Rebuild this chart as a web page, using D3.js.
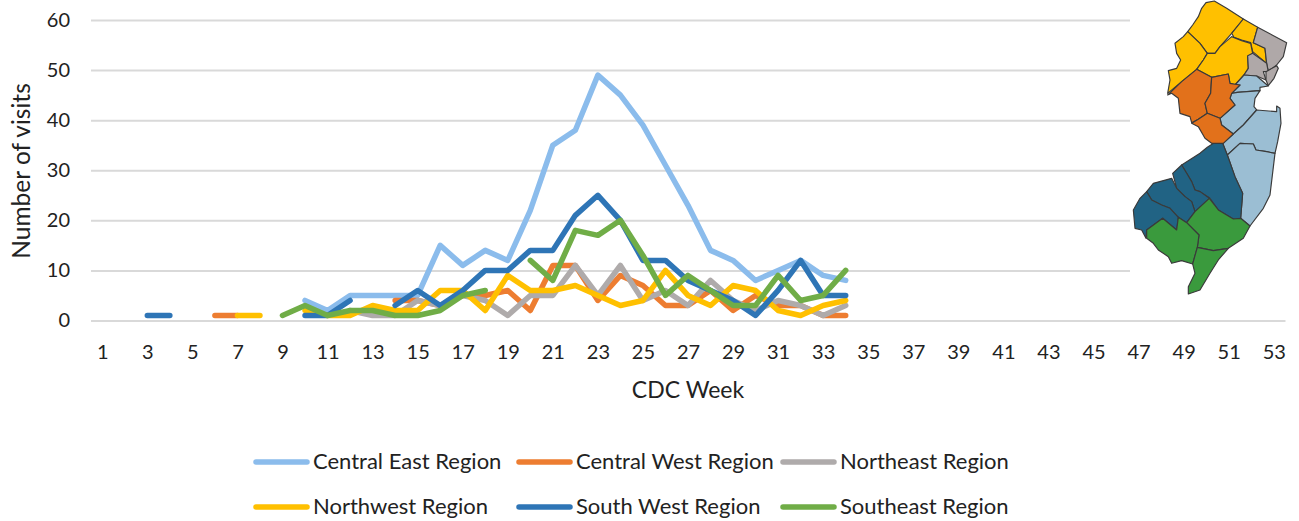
<!DOCTYPE html>
<html>
<head>
<meta charset="utf-8">
<script src="https://cdn.jsdelivr.net/npm/d3@7"></script>
<style>
    html, body { margin: 0; padding: 0; background: #fff; }
    svg { display: block; }
    text { font-family: Lato, "Open Sans", sans-serif; fill: #222; }
</style>
</head>
<body>
<svg id="drawing_region"></svg>
<script>
const _ = null;

// weeks 1 to 53
const weeks = d3.range(1, 54);
const y_ticks = [0, 10, 20, 30, 40, 50, 60];

const central_east = [_,_,_,_,_,_,_,_,_,4,2,5,5,5,5,15,11,14,12,22,35,38,49,45,39,31,23,14,12,8,10,12,9,8];
const central_west = [_,_,_,_,_,1,1,_,_,_,_,_,_,4,4,3,5,5,6,2,11,11,4,9,7,3,3,6,2,5,3,3,1,1];
const northeast    = [_,_,_,_,_,_,_,_,_,_,_,2,1,1,4,3,5,4,1,5,5,11,5,11,4,6,3,8,4,2,4,3,1,3];
const northwest    = [_,_,_,_,_,_,1,1,_,2,1,1,3,2,2,6,6,2,9,6,6,7,5,3,4,10,5,3,7,6,2,1,3,4];
const south_west   = [_,_,1,1,_,_,_,_,_,1,1,4,_,3,6,3,6,10,10,14,14,21,25,20,12,12,8,6,4,1,6,12,5,5];
const southeast    = [_,_,_,_,_,_,_,_,1,3,1,2,2,1,1,2,5,6,_,12,8,18,17,20,13,5,9,6,3,3,9,4,5,10];

const series_names = ['Central East Region', 'Central West Region', 'Northeast Region',
                      'Northwest Region', 'South West Region', 'Southeast Region'];
const series_values = [central_east, central_west, northeast, northwest, south_west, southeast];
const series_colors = ['#8bbcec', '#ed7d31', '#afabab', '#ffc000', '#2e75b6', '#70ad47'];

// New Jersey inset, traced outlines
const map_yellow = [
    [[283,3],[258,8],[245,25],[235,50],[218,75],[203,95],[240,130],[262,160],[285,160],[300,140],[335,100],[370,57],[320,25]],
    [[370,57],[335,100],[342,112],[365,120],[392,128],[398,155],[440,190],[435,145],[400,128],[413,82]],
    [[203,95],[190,110],[165,130],[170,160],[182,180],[170,205],[145,212],[150,240],[143,280],[185,245],[230,208],[250,180],[262,160],[240,130]],
    [[262,160],[285,160],[300,140],[335,110],[365,122],[392,130],[398,160],[383,170],[385,205],[372,225],[345,255],[330,250],[325,222],[275,232],[230,208],[250,180]]
];
const map_gray = [
    [[413,82],[500,128],[490,170],[470,195],[445,215],[440,190],[435,145],[400,128]],
    [[383,167],[398,160],[440,190],[445,215],[430,215],[438,240],[410,228],[372,225],[385,205]],
    [[438,215],[470,197],[475,205],[462,235],[445,257],[438,240]]
];
const map_light = [
    [[372,225],[410,228],[445,258],[420,262],[420,272],[352,277],[335,280],[360,255],[345,255]],
    [[352,277],[420,272],[405,295],[402,320],[410,330],[370,375],[340,402],[305,375],[300,355],[345,315],[330,295],[335,280]],
    [[340,402],[370,375],[410,330],[470,335],[470,318],[480,325],[483,370],[473,425],[465,460],[440,455],[408,450],[400,432],[360,430],[322,465],[308,430]],
    [[322,465],[360,430],[400,432],[408,450],[440,455],[465,460],[450,585],[430,625],[390,678],[362,655],[368,580],[345,530]]
];
const map_dark = [
    [[262,442],[283,428],[308,430],[322,465],[345,530],[368,580],[362,655],[340,657],[295,630],[270,595],[240,575],[225,570],[215,545],[200,520],[185,495],[240,460]],
    [[185,495],[200,520],[215,545],[225,570],[240,575],[268,595],[225,635],[215,605],[195,590],[170,565],[158,520]],
    [[80,575],[100,550],[155,535],[170,565],[195,590],[215,605],[225,635],[200,668],[175,652],[150,625],[125,615],[95,600]],
    [[80,575],[60,595],[40,630],[45,685],[65,690],[78,715],[80,690],[128,655],[170,690],[175,652],[150,625],[125,615],[95,600]]
];
const map_orange = [
    [[143,285],[185,245],[230,208],[275,232],[272,280],[255,310],[262,340],[235,358],[215,368],[210,350],[180,340],[175,295],[155,280]],
    [[275,232],[325,222],[330,250],[360,255],[335,280],[330,295],[345,315],[300,355],[262,340],[255,310],[272,280]],
    [[262,340],[300,355],[305,375],[340,402],[310,430],[275,430],[255,415],[235,380],[215,370],[235,358]]
];
const map_green = [
    [[268,595],[295,630],[340,657],[362,655],[390,678],[370,715],[325,745],[280,752],[232,742],[237,705],[200,668],[225,635]],
    [[128,655],[170,690],[175,652],[200,668],[237,705],[232,742],[218,792],[185,782],[155,790],[145,770],[115,750],[100,730],[80,715],[80,690]],
    [[232,742],[280,752],[325,745],[295,780],[270,820],[240,870],[205,882],[205,860],[225,820],[218,792]]
];
const map_groups = [map_yellow, map_gray, map_light, map_dark, map_orange, map_green];
const map_colors = ['#ffc000', '#afa8a8', '#9bbed3', '#216384', '#e2711b', '#3a9a3d'];

const width = 1299, height = 521;
const margin = {top: 20, right: 14, bottom: 200.5, left: 91};
const inner_width = width - margin.left - margin.right;
const inner_height = height - margin.top - margin.bottom;

const svg = d3.select('#drawing_region')
    .attr('width', width)
    .attr('height', height);

const chart = svg.append('g')
    .attr('transform', `translate(${margin.left}, ${margin.top})`);

const xscale = d3.scalePoint()
    .domain(weeks)
    .range([0, inner_width])
    .padding(0.5);

const yscale = d3.scaleLinear()
    .domain([0, 60])
    .range([inner_height, 0]);

// grid lines come from the left axis
const yaxis_group = chart.append('g')
    .call(d3.axisLeft(yscale).tickValues(y_ticks).tickSize(-inner_width).tickPadding(21));
yaxis_group.select('.domain').remove();
yaxis_group.selectAll('line').attr('stroke', '#d9d9d9').attr('stroke-width', 2);
yaxis_group.selectAll('text').attr('font-size', 20).style('font-family', 'Lato');

const xaxis_group = chart.append('g')
    .attr('transform', `translate(0, ${inner_height})`)
    .call(d3.axisBottom(xscale).tickValues(weeks.filter(d => d % 2 == 1)).tickSize(0).tickPadding(24));
xaxis_group.select('.domain').attr('stroke', '#d9d9d9').attr('stroke-width', 2);
xaxis_group.selectAll('text').attr('font-size', 20).style('font-family', 'Lato');

const line = d3.line()
    .defined(d => d != null)
    .x((d, i) => xscale(weeks[i]))
    .y(d => yscale(d));

chart.selectAll('.series')
    .data(series_values)
    .enter()
    .append('path')
    .attr('class', 'series')
    .attr('d', d => line(d))
    .attr('fill', 'none')
    .attr('stroke', (d, i) => series_colors[i])
    .attr('stroke-width', 5.5)
    .attr('stroke-linecap', 'round')
    .attr('stroke-linejoin', 'round');

// axis titles
svg.append('text')
    .attr('x', 688)
    .attr('y', 398)
    .attr('text-anchor', 'middle')
    .attr('font-size', 23)
    .text('CDC Week');

svg.append('text')
    .attr('transform', 'translate(30, 171) rotate(-90)')
    .attr('text-anchor', 'middle')
    .attr('font-size', 24.5)
    .text('Number of visits');

// legend
const legend_x = [252, 515, 779];
const legend_y = [462, 507];

const legend = svg.selectAll('.legend_item')
    .data(series_names)
    .enter()
    .append('g')
    .attr('class', 'legend_item')
    .attr('transform', (d, i) => `translate(${legend_x[i % 3]}, ${legend_y[Math.floor(i / 3)]})`);

legend.append('line')
    .attr('x1', 4)
    .attr('x2', 55)
    .attr('stroke', (d, i) => series_colors[i])
    .attr('stroke-width', 5.5)
    .attr('stroke-linecap', 'round');

legend.append('text')
    .attr('x', 61)
    .attr('y', 7)
    .attr('font-size', 22)
    .text(d => d);

// map picture sits on a white panel that hides the grid
svg.append('rect')
    .attr('x', 1130)
    .attr('y', 0)
    .attr('width', 169)
    .attr('height', 300)
    .attr('fill', '#fff');

const map = svg.append('g')
    .attr('transform', 'translate(1120, 0) scale(0.3333)');

const outline = d3.line().curve(d3.curveLinearClosed);

map_groups.forEach((group, i) => {
    map.selectAll(`.county_${i}`)
        .data(group)
        .enter()
        .append('path')
        .attr('class', `county_${i}`)
        .attr('d', d => outline(d))
        .attr('fill', map_colors[i])
        .attr('stroke', '#3a3a3a')
        .attr('stroke-width', 3.5)
        .attr('stroke-linejoin', 'round');
});
</script>
</body>
</html>
